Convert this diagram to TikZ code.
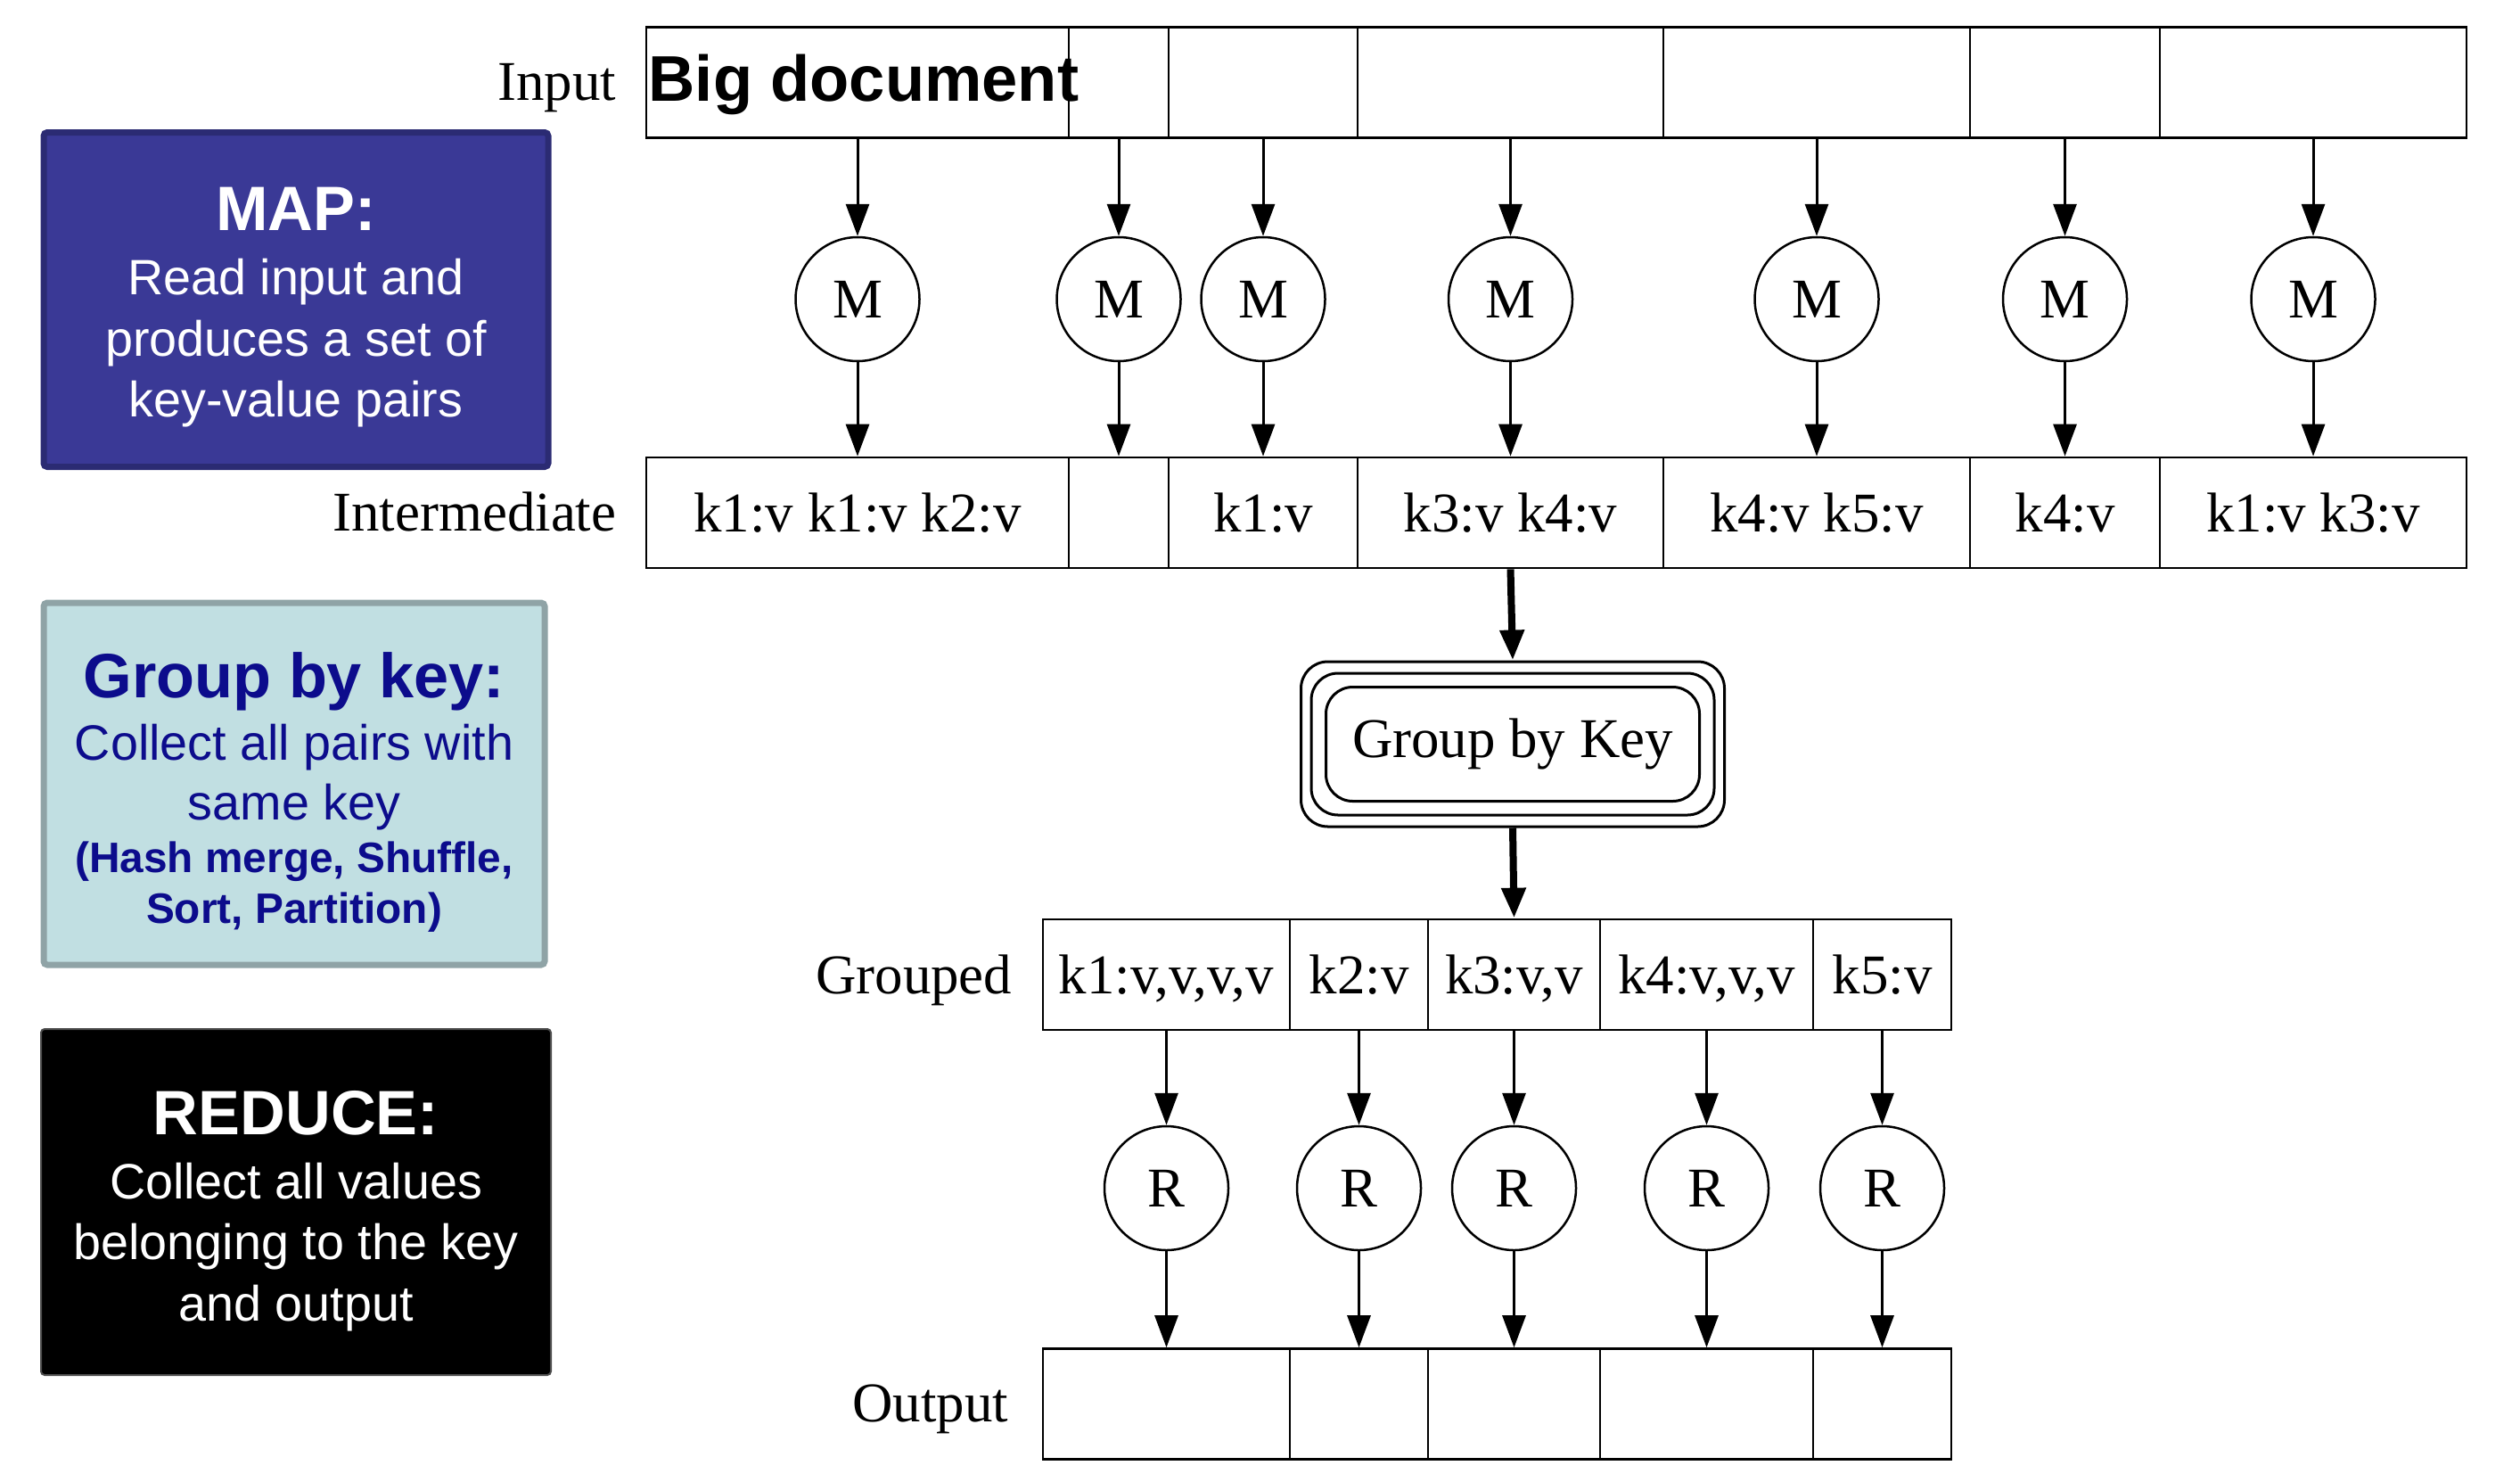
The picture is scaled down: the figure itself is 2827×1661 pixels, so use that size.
\documentclass[tikz,border=0pt]{standalone}
\usepackage{fontspec}
\setmainfont{Liberation Serif}
\setsansfont{Liberation Sans}
\usepackage{tikz}
\usetikzlibrary{arrows.meta}

\definecolor{mapblue}{HTML}{3A3996}
\definecolor{mapedge}{HTML}{2B2B73}
\definecolor{grpfill}{HTML}{C1DFE2}
\definecolor{grpedge}{HTML}{8FA3A6}
\definecolor{grptext}{HTML}{0C0C8C}

\begin{document}
\begin{tikzpicture}[x=0.1mm,y=-0.1mm,
        cell/.style={draw,rectangle,line width=0.27mm,minimum height=12.4mm,inner sep=0pt,
            font=\fontsize{17.9}{21}\selectfont,text height=12.2pt,text depth=0pt},
        proc/.style={draw,circle,line width=0.25mm,minimum size=13.9mm,inner sep=0pt,
            font=\fontsize{17.9}{21}\selectfont},
        lbl/.style={anchor=base east,inner sep=0pt,font=\fontsize{17.9}{21}\selectfont},
        arr/.style={line width=0.3mm,-{Triangle[length=3.6mm,width=2.6mm]}},
        fatarr/.style={line width=0.8mm,-{Triangle[length=3.4mm,width=2.6mm]}},
        frame/.style={draw,rectangle,rounded corners=3mm,line width=0.3mm,inner sep=0pt},
        infobox/.style={rectangle,rounded corners=0.4mm,inner sep=0pt},
        infotext/.style={align=center,inner sep=0pt,font=\sffamily\fontsize{15.85}{19.5}\selectfont}]
    \useasboundingbox (0,0) rectangle (2827,1661);

    % Legend boxes
    \node[infobox,fill=mapblue,draw=mapedge,line width=0.7mm,
        minimum width=56.6mm,minimum height=37.5mm] (mapbox) at (332,336) {};
    \node[infotext,text=white] (maptext) at (332,345)
        {{\bfseries\fontsize{20}{24}\selectfont MAP:}\\[1pt]
         Read input and\\produces a set of\\key-value pairs};
    \node[infobox,fill=grpfill,draw=grpedge,line width=0.7mm,
        minimum width=56.2mm,minimum height=40.6mm] (grpbox) at (330,879) {};
    \node[infotext,text=grptext,font=\sffamily\fontsize{15.85}{19}\selectfont] (grptext) at (330,888)
        {{\bfseries\fontsize{20}{24}\selectfont Group by key:}\\[1pt]
         Collect all pairs with\\same key\\[-2pt]
         {\bfseries\fontsize{13.6}{16}\selectfont (Hash merge, Shuffle,}\\[-3pt]
         {\bfseries\fontsize{13.6}{16}\selectfont Sort, Partition)}};
    \node[infobox,fill=black,draw=black!70,line width=0.2mm,
        minimum width=57.2mm,minimum height=38.8mm] (redbox) at (332,1348) {};
    \node[infotext,text=white] (redtext) at (332,1358)
        {{\bfseries\fontsize{20}{24}\selectfont REDUCE:}\\[1pt]
         Collect all values\\belonging to the key\\and output};

    % Row labels
    \node[lbl] (linput) at (692,112) {Input};
    \node[lbl] (lmid) at (692,595) {Intermediate};
    \node[lbl] (lgrp) at (1136,1114) {Grouped};
    \node[lbl] (lout) at (1132,1594) {Output};

    % Input row
    \node[cell,minimum width=47.4mm] (in1) at (962,92.5) {};
    \node[cell,minimum width=11.2mm] (in2) at (1255,92.5) {};
    \node[cell,minimum width=21.2mm] (in3) at (1417,92.5) {};
    \node[cell,minimum width=34.3mm] (in4) at (1694.5,92.5) {};
    \node[cell,minimum width=34.4mm] (in5) at (2038,92.5) {};
    \node[cell,minimum width=21.3mm] (in6) at (2316.5,92.5) {};
    \node[cell,minimum width=34.4mm] (in7) at (2595,92.5) {};
    \node[anchor=base west,inner sep=0pt,font=\sffamily\bfseries\fontsize{20.6}{24}\selectfont]
        (bigdoc) at (727,113) {Big document};

    % Map tasks
    \node[proc] (m1) at (962,335.5) {M};
    \node[proc] (m2) at (1255,335.5) {M};
    \node[proc] (m3) at (1417,335.5) {M};
    \node[proc] (m4) at (1694.5,335.5) {M};
    \node[proc] (m5) at (2038,335.5) {M};
    \node[proc] (m6) at (2316.5,335.5) {M};
    \node[proc] (m7) at (2595,335.5) {M};

    % Intermediate row
    \node[cell,minimum width=47.4mm] (mid1) at (962,575) {k1:v k1:v k2:v};
    \node[cell,minimum width=11.2mm] (mid2) at (1255,575) {};
    \node[cell,minimum width=21.2mm] (mid3) at (1417,575) {k1:v};
    \node[cell,minimum width=34.3mm] (mid4) at (1694.5,575) {k3:v k4:v};
    \node[cell,minimum width=34.4mm] (mid5) at (2038,575) {k4:v k5:v};
    \node[cell,minimum width=21.3mm] (mid6) at (2316.5,575) {k4:v};
    \node[cell,minimum width=34.4mm] (mid7) at (2595,575) {k1:v k3:v};

    \draw[arr] (in1.south) -- (m1.north);
    \draw[arr] (in2.south) -- (m2.north);
    \draw[arr] (in3.south) -- (m3.north);
    \draw[arr] (in4.south) -- (m4.north);
    \draw[arr] (in5.south) -- (m5.north);
    \draw[arr] (in6.south) -- (m6.north);
    \draw[arr] (in7.south) -- (m7.north);
    \draw[arr] (m1.south) -- (mid1.north);
    \draw[arr] (m2.south) -- (mid2.north);
    \draw[arr] (m3.south) -- (mid3.north);
    \draw[arr] (m4.south) -- (mid4.north);
    \draw[arr] (m5.south) -- (mid5.north);
    \draw[arr] (m6.south) -- (mid6.north);
    \draw[arr] (m7.south) -- (mid7.north);

    % Group by Key (three outlines)
    \node[frame,minimum width=47.5mm,minimum height=18.5mm] (gbkout) at (1697,834.5) {};
    \node[frame,minimum width=45.2mm,minimum height=15.9mm] (gbkmid) at (1697,834.5) {};
    \node[frame,minimum width=41.9mm,minimum height=12.8mm,
        font=\fontsize{17.9}{21}\selectfont] (gbk) at (1697,834.5) {Group by Key};

    % Grouped row
    \node[cell,minimum width=27.7mm] (grp1) at (1308.5,1093) {k1:v,v,v,v};
    \node[cell,minimum width=15.5mm] (grp2) at (1524.5,1093) {k2:v};
    \node[cell,minimum width=19.3mm] (grp3) at (1698.5,1093) {k3:v,v};
    \node[cell,minimum width=23.9mm] (grp4) at (1914.5,1093) {k4:v,v,v};
    \node[cell,minimum width=15.5mm] (grp5) at (2111.5,1093) {k5:v};

    \draw[fatarr] (mid4.south) -- (gbkout.north);
    \draw[fatarr] (gbkout.south) -- (grp3.north);

    % Reduce tasks
    \node[proc] (r1) at (1308.5,1332.5) {R};
    \node[proc] (r2) at (1524.5,1332.5) {R};
    \node[proc] (r3) at (1698.5,1332.5) {R};
    \node[proc] (r4) at (1914.5,1332.5) {R};
    \node[proc] (r5) at (2111.5,1332.5) {R};

    % Output row
    \node[cell,minimum width=27.7mm] (out1) at (1308.5,1574.5) {};
    \node[cell,minimum width=15.5mm] (out2) at (1524.5,1574.5) {};
    \node[cell,minimum width=19.3mm] (out3) at (1698.5,1574.5) {};
    \node[cell,minimum width=23.9mm] (out4) at (1914.5,1574.5) {};
    \node[cell,minimum width=15.5mm] (out5) at (2111.5,1574.5) {};

    \draw[arr] (grp1.south) -- (r1.north);
    \draw[arr] (grp2.south) -- (r2.north);
    \draw[arr] (grp3.south) -- (r3.north);
    \draw[arr] (grp4.south) -- (r4.north);
    \draw[arr] (grp5.south) -- (r5.north);
    \draw[arr] (r1.south) -- (out1.north);
    \draw[arr] (r2.south) -- (out2.north);
    \draw[arr] (r3.south) -- (out3.north);
    \draw[arr] (r4.south) -- (out4.north);
    \draw[arr] (r5.south) -- (out5.north);
\end{tikzpicture}
\end{document}
